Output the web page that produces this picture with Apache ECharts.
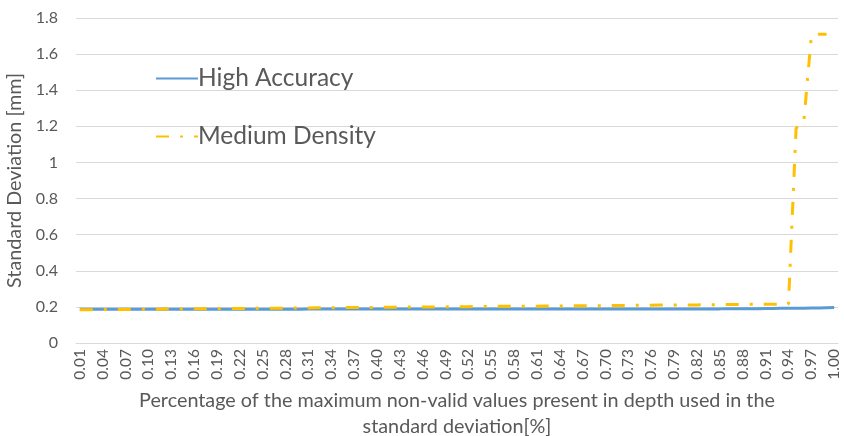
<!DOCTYPE html>
<html>
<head>
<meta charset="utf-8">
<script src="https://cdn.jsdelivr.net/npm/echarts@6/dist/echarts.min.js"></script>
<style>
  html, body { margin: 0; padding: 0; background: #fff; }
  #chart { width: 844px; height: 436px; }
</style>
</head>
<body>
<div id="chart"></div>
<script>
// Share of invalid depth values allowed (0.01 … 1.00)
const categories = [
  '0.01','0.02','0.03','0.04','0.05','0.06','0.07','0.08','0.09','0.10',
  '0.11','0.12','0.13','0.14','0.15','0.16','0.17','0.18','0.19','0.20',
  '0.21','0.22','0.23','0.24','0.25','0.26','0.27','0.28','0.29','0.30',
  '0.31','0.32','0.33','0.34','0.35','0.36','0.37','0.38','0.39','0.40',
  '0.41','0.42','0.43','0.44','0.45','0.46','0.47','0.48','0.49','0.50',
  '0.51','0.52','0.53','0.54','0.55','0.56','0.57','0.58','0.59','0.60',
  '0.61','0.62','0.63','0.64','0.65','0.66','0.67','0.68','0.69','0.70',
  '0.71','0.72','0.73','0.74','0.75','0.76','0.77','0.78','0.79','0.80',
  '0.81','0.82','0.83','0.84','0.85','0.86','0.87','0.88','0.89','0.90',
  '0.91','0.92','0.93','0.94','0.95','0.96','0.97','0.98','0.99','1.00'
];

// Standard deviation [mm], High Accuracy preset
const highAccuracy = [
  0.187,0.187,0.187,0.187,0.187,0.187,0.187,0.187,0.187,0.187,
  0.187,0.187,0.187,0.187,0.187,0.187,0.187,0.187,0.187,0.187,
  0.187,0.187,0.187,0.187,0.187,0.187,0.187,0.187,0.187,0.187,
  0.188,0.188,0.188,0.188,0.188,0.188,0.188,0.188,0.188,0.188,
  0.188,0.188,0.188,0.188,0.188,0.188,0.188,0.188,0.188,0.188,
  0.188,0.188,0.188,0.188,0.188,0.188,0.188,0.188,0.188,0.188,
  0.188,0.188,0.188,0.188,0.188,0.188,0.188,0.188,0.188,0.188,
  0.189,0.189,0.189,0.189,0.189,0.189,0.189,0.189,0.189,0.189,
  0.189,0.189,0.189,0.189,0.189,0.190,0.190,0.190,0.190,0.190,
  0.191,0.191,0.192,0.192,0.193,0.193,0.194,0.194,0.195,0.196
];

// Standard deviation [mm], Medium Density preset
const mediumDensity = [
  0.184,0.184,0.185,0.185,0.185,0.186,0.186,0.186,0.187,0.187,
  0.187,0.188,0.188,0.188,0.189,0.189,0.190,0.190,0.190,0.191,
  0.191,0.191,0.192,0.192,0.192,0.193,0.193,0.193,0.194,0.194,
  0.194,0.195,0.195,0.195,0.196,0.196,0.196,0.197,0.197,0.197,
  0.198,0.198,0.198,0.199,0.199,0.199,0.200,0.200,0.200,0.201,
  0.201,0.201,0.202,0.202,0.202,0.203,0.203,0.203,0.204,0.204,
  0.204,0.205,0.205,0.205,0.206,0.206,0.206,0.207,0.207,0.207,
  0.208,0.208,0.208,0.209,0.209,0.209,0.210,0.210,0.210,0.211,
  0.211,0.211,0.212,0.212,0.212,0.213,0.213,0.213,0.214,0.214,
  0.214,0.215,0.215,0.216,1.19,1.22,1.70,1.71,1.71,null
];

const yTicks = { min: 0, max: 1.8, interval: 0.2 };

const FONT = 'Lato, "Open Sans", sans-serif';
const TEXT = '#595959';

const chart = echarts.init(document.getElementById('chart'), null, { renderer: 'canvas' });
chart.setOption({
  animation: false,
  textStyle: { fontFamily: FONT, color: TEXT },
  grid: { left: 76, right: 6, top: 18, bottom: 93, containLabel: false, outerBoundsMode: 'none' },
  legend: {
    orient: 'vertical',
    left: 155,
    top: 66,
    padding: 0,
    itemGap: 33,
    itemWidth: 42,
    itemHeight: 12,
    itemStyle: { opacity: 0 },
    textStyle: { fontFamily: FONT, fontSize: 24.5, color: TEXT, padding: [0, 0, 0, -5] },
    data: ['High Accuracy', 'Medium Density']
  },
  xAxis: {
    type: 'category',
    data: categories,
    boundaryGap: true,
    axisLine: { lineStyle: { color: '#d9d9d9', width: 1 } },
    axisTick: { show: false },
    axisLabel: {
      interval: 2,
      rotate: 90,
      margin: 6,
      fontSize: 15.5,
      color: TEXT,
      fontFamily: FONT
    },
    name: 'Percentage of the maximum non-valid values present in depth used in the\nstandard deviation[%]',
    nameLocation: 'middle',
    nameGap: 43,
    nameTextStyle: { fontSize: 19.8, color: TEXT, fontFamily: FONT, lineHeight: 26 }
  },
  yAxis: {
    type: 'value',
    min: yTicks.min,
    max: yTicks.max,
    interval: yTicks.interval,
    axisLine: { show: false },
    axisTick: { show: false },
    splitLine: { lineStyle: { color: '#d9d9d9', width: 1 } },
    axisLabel: {
      margin: 18,
      fontSize: 16,
      color: TEXT,
      fontFamily: FONT,
      formatter: v => String(Math.round(v * 10) / 10)
    },
    name: 'Standard Deviation [mm]',
    nameLocation: 'middle',
    nameGap: 47,
    nameTextStyle: { fontSize: 19.8, color: TEXT, fontFamily: FONT }
  },
  series: [
    {
      name: 'High Accuracy',
      type: 'line',
      data: highAccuracy,
      symbol: 'none',
      showSymbol: false,
      lineStyle: { color: '#5B9BD5', width: 3 },
      itemStyle: { color: '#5B9BD5' },
      z: 2
    },
    {
      name: 'Medium Density',
      type: 'line',
      data: mediumDensity,
      symbol: 'none',
      showSymbol: false,
      connectNulls: false,
      lineStyle: { color: '#FFC000', width: 3, type: [13, 11, 3, 11] },
      itemStyle: { color: '#FFC000' },
      z: 3
    }
  ]
});
</script>
</body>
</html>
